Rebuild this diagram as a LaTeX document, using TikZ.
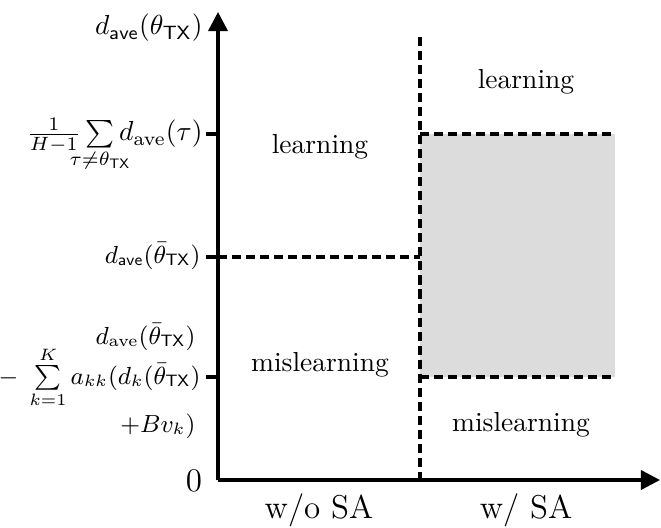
\documentclass[tikz,border=0pt]{standalone}
\usepackage{mathtools}
\usetikzlibrary{arrows.meta}
\definecolor{regiongray}{RGB}{220,220,220}
\begin{document}
\begin{tikzpicture}[x=0.3636pt,y=-0.3636pt,
  axis/.style={line width=1.3pt,-{Triangle[length=7pt,width=7pt]}},
  tickline/.style={line width=1.3pt},
  bound/.style={line width=1.1pt,dash pattern=on 3.3pt off 1.8pt},
  ylab/.style={anchor=base east,inner sep=0pt},
  smalllab/.style={ylab,font=\small},
  region/.style={inner sep=0pt},
  xlab/.style={font=\large,inner sep=0pt}]
\useasboundingbox (0,0) rectangle (661,527);
% shaded region
\fill[regiongray] (420,134) rectangle (615,377);
% coordinates
\coordinate (O) at (218,480);
\coordinate (ytop) at (218,12);
\coordinate (xend) at (660,480);
\coordinate (vtop) at (420,37);
\coordinate (vbot) at (420,480);
\coordinate (hl) at (218,257);
\coordinate (hr) at (420,257);
\coordinate (ra) at (420,134);
\coordinate (rb) at (615,134);
\coordinate (rc) at (420,377);
\coordinate (rd) at (615,377);
% dashed boundaries
\draw[bound] (vtop) -- (vbot);
\draw[bound] (hl) -- (hr);
\draw[bound] (ra) -- (rb);
\draw[bound] (rc) -- (rd);
% axes
\draw[axis] (O) -- (xend);
\draw[axis] (O) -- (ytop);
% ticks
\coordinate (t1) at (206,134);
\coordinate (t2) at (206,257);
\coordinate (t3) at (206,377);
\draw[tickline] (t1) -- (218,134);
\draw[tickline] (t2) -- (218,257);
\draw[tickline] (t3) -- (218,377);
% y labels
\node[ylab] (ly0) at (203,35) {$d_{\mathsf{ave}}(\theta_{\mathsf{TX}})$};
\node[ylab] (ly1) at (203,141) {$\frac{1}{H-1}\sum\limits_{\mathclap{\tau\neq\theta_{\mathsf{TX}}}} d_{\mathrm{ave}}(\tau)$};
\node[smalllab] (ly2) at (201,263) {$d_{\mathsf{ave}}(\bar{\theta}_{\mathsf{TX}})$};
\node[smalllab] (ly3a) at (196,344) {$d_{\mathrm{ave}}(\bar{\theta}_{\mathsf{TX}})$};
\node[smalllab] (ly3b) at (201,384) {$-\;\sum\limits_{k=1}^{K} a_{kk}(d_k(\bar{\theta}_{\mathsf{TX}})$};
\node[smalllab] (ly3c) at (196,432) {$+Bv_k)$};
\node[inner sep=0pt,font=\large] (l0) at (194,481) {0};
% region labels
\node[region] (learnL) at (320,147) {learning};
\node[region] (misL) at (320,365) {mislearning};
\node[region] (learnR) at (526,82) {learning};
\node[region] (misR) at (521,425) {mislearning};
% x labels
\node[xlab] (woSA) at (319,510) {w/o SA};
\node[xlab] (wSA) at (526,510) {w/ SA};
\end{tikzpicture}
\end{document}
